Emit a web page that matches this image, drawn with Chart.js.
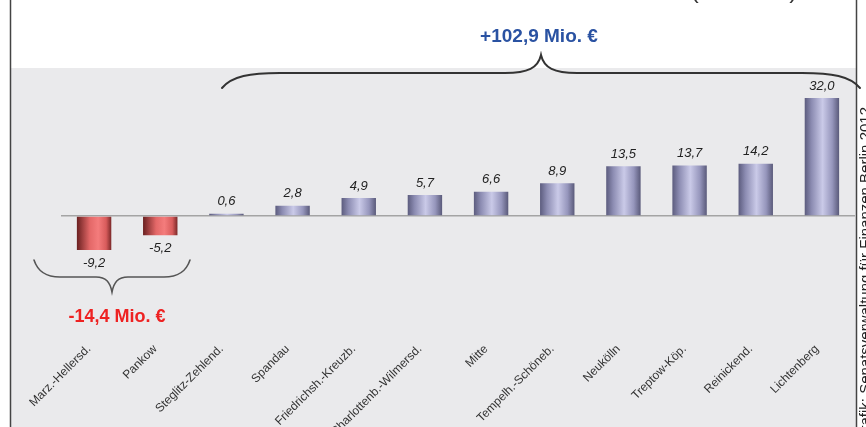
<!DOCTYPE html>
<html><head><meta charset="utf-8">
<script src="https://cdn.jsdelivr.net/npm/chart.js@4.4.1/dist/chart.umd.min.js"></script>
<style>html,body{margin:0;padding:0;background:#fff;overflow:hidden}#wrap{width:866px;height:427px;position:relative}</style>
</head><body><div id="wrap"><canvas id="c" width="866" height="427"></canvas></div>
<script>
const categories = ["Marz.-Hellersd.", "Pankow", "Steglitz-Zehlend.", "Spandau", "Friedrichsh.-Kreuzb.", "Charlottenb.-Wilmersd.", "Mitte", "Tempelh.-Schöneb.", "Neukölln", "Treptow-Köp.", "Reinickend.", "Lichtenberg"];
const values = [-9.2, -5.2, 0.6, 2.8, 4.9, 5.7, 6.6, 8.9, 13.5, 13.7, 14.2, 32.0];
const negativeTotal = "-14,4 Mio. €";
const positiveTotal = "+102,9 Mio. €";
const sourceText = "Grafik: Senatsverwaltung für Finanzen Berlin 2012";
const unitText = "(in Mio. €)";
const yMin = -32, yMax = 40;

const FONT = "'Liberation Sans', Arial, sans-serif";
const BAR_PCT = 0.52;

function fmt(v){ return v.toFixed(1).replace('.', ','); }

function barFill(ctx){
  const chart = ctx.chart;
  const xs = chart.scales && chart.scales.x;
  const v = values[ctx.dataIndex];
  if (!xs || xs.width === undefined || ctx.type !== 'data') return v < 0 ? '#e06060' : '#9a9ac0';
  const cx = xs.getPixelForValue(ctx.dataIndex);
  const w = xs.width / categories.length * BAR_PCT;
  const g = chart.ctx.createLinearGradient(cx - w/2, 0, cx + w/2, 0);
  if (v < 0) {
    g.addColorStop(0, '#6a2020');
    g.addColorStop(0.38, '#e46868');
    g.addColorStop(0.62, '#f47c7c');
    g.addColorStop(0.85, '#d85c5c');
    g.addColorStop(1, '#7a2828');
  } else {
    g.addColorStop(0, '#5c5c7e');
    g.addColorStop(0.2, '#8c8cb2');
    g.addColorStop(0.52, '#cacae8');
    g.addColorStop(0.8, '#9696bc');
    g.addColorStop(1, '#5a5a7a');
  }
  return g;
}

const decor = {
  id: 'decor',
  beforeDraw(chart){
    const c = chart.ctx;
    c.save();
    c.fillStyle = '#ffffff';
    c.fillRect(0, 0, chart.width, chart.height);
    c.fillStyle = '#eaeaec';
    c.fillRect(11, 68, 845, chart.height - 68);
    c.restore();
  },
  afterDatasetsDraw(chart){
    const c = chart.ctx;
    const meta = chart.getDatasetMeta(0);
    c.save();
    c.font = "italic 13px " + FONT;
    c.fillStyle = '#222';
    c.textAlign = 'center';
    c.textBaseline = 'middle';
    meta.data.forEach((el, i) => {
      const v = values[i];
      const y = v < 0 ? el.y + 13 : el.y - 12;
      c.fillText(fmt(v), el.x, y);
    });
    c.restore();
  },
  afterDraw(chart){
    const c = chart.ctx;
    c.save();
    // borders
    c.strokeStyle = '#444';
    c.lineWidth = 1.5;
    c.beginPath(); c.moveTo(10.5, 0); c.lineTo(10.5, chart.height); c.stroke();
    c.beginPath(); c.moveTo(856.5, 0); c.lineTo(856.5, chart.height); c.stroke();
    // top brace
    c.strokeStyle = '#333';
    c.lineWidth = 2;
    c.lineCap = 'round';
    c.beginPath();
    c.moveTo(222, 88);
    c.bezierCurveTo(232, 76, 250, 73, 280, 73);
    c.lineTo(505, 73);
    c.bezierCurveTo(528, 73, 538, 68, 541, 55);
    c.bezierCurveTo(544, 68, 554, 73, 577, 73);
    c.lineTo(802, 73);
    c.bezierCurveTo(832, 73, 850, 76, 860, 88);
    c.stroke();
    // bottom brace
    c.strokeStyle = '#555';
    c.lineWidth = 1.6;
    c.beginPath();
    c.moveTo(34, 260);
    c.bezierCurveTo(38, 272, 46, 277, 60, 277);
    c.lineTo(96, 277);
    c.bezierCurveTo(106, 277, 110, 282, 112, 292);
    c.bezierCurveTo(114, 282, 118, 277, 128, 277);
    c.lineTo(164, 277);
    c.bezierCurveTo(178, 277, 186, 272, 190, 260);
    c.stroke();
    // totals
    c.textAlign = 'center';
    c.textBaseline = 'middle';
    c.font = "bold 19px " + FONT;
    c.fillStyle = '#2a52a2';
    c.fillText(positiveTotal, 539, 37);
    c.font = "bold 18px " + FONT;
    c.fillStyle = '#ee2222';
    c.fillText(negativeTotal, 117, 317);
    // unit (cropped at top)
    c.font = "24px " + FONT;
    c.fillStyle = '#333';
    c.textBaseline = 'alphabetic';
    c.fillText(unitText, 744, -2);
    // source text, vertical
    c.translate(869.5, 107);
    c.rotate(-Math.PI/2);
    c.textAlign = 'right';
    c.font = "15px " + FONT;
    c.fillStyle = '#222';
    c.fillText(sourceText, 0, 0);
    c.restore();
  }
};

new Chart(document.getElementById('c'), {
  type: 'bar',
  data: {
    labels: categories,
    datasets: [{
      data: values,
      backgroundColor: barFill,
      borderWidth: 0,
      barPercentage: BAR_PCT,
      categoryPercentage: 1.0
    }]
  },
  options: {
    responsive: false,
    animation: false,
    devicePixelRatio: 1,
    layout: { padding: { left: 61, right: 11, top: 68.5, bottom: 0 } },
    plugins: { legend: { display: false }, tooltip: { enabled: false }, title: { display: false } },
    scales: {
      x: {
        grid: { display: false },
        border: { display: false },
        ticks: {
          color: '#333',
          font: { family: FONT, size: 12 },
          minRotation: 45, maxRotation: 45,
          autoSkip: false,
          padding: 0,
          labelOffset: -5
        },
        afterFit(s){ s.height = 93; }
      },
      y: {
        min: yMin, max: yMax,
        ticks: { display: false, stepSize: 8 },
        border: { display: false },
        grid: {
          drawTicks: false,
          color: (ctx) => (ctx.tick && ctx.tick.value === 0) ? '#a4a4a4' : 'rgba(0,0,0,0)',
          lineWidth: 1.5
        },
        afterFit(s){ s.width = 0; }
      }
    }
  },
  plugins: [decor]
});
</script>
</body></html>
